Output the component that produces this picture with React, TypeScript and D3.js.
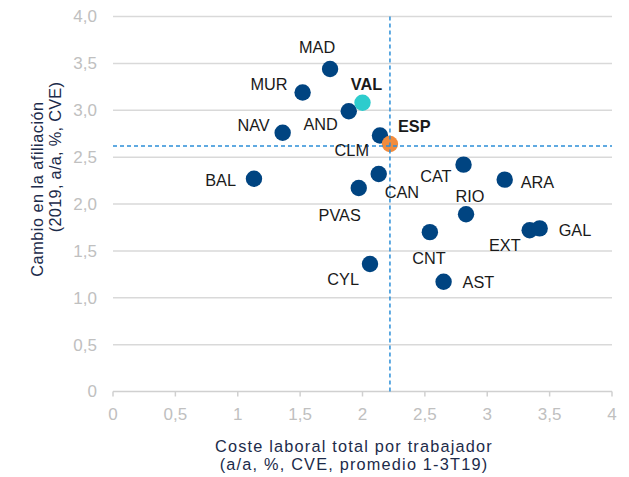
import React from "react";
import * as d3 from "d3";

// Regiones: coste laboral (x) y afiliación (y)
const regions = ["MAD", "MUR", "AND", "VAL", "NAV", "BAL", "CLM", "ESP", "CAT", "ARA", "CAN", "PVAS", "RIO", "CNT", "EXT", "GAL", "CYL", "AST"];
const costValues = [1.74, 1.52, 1.89, 2.0, 1.36, 1.13, 2.14, 2.22, 2.81, 3.14, 2.13, 1.97, 2.83, 2.54, 3.34, 3.42, 2.06, 2.65];
const affValues = [3.44, 3.19, 2.99, 3.08, 2.76, 2.27, 2.73, 2.64, 2.42, 2.26, 2.32, 2.17, 1.89, 1.7, 1.72, 1.74, 1.36, 1.17];
const xTicks = [0, 0.5, 1, 1.5, 2, 2.5, 3, 3.5, 4];
const yTicks = [0, 0.5, 1, 1.5, 2, 2.5, 3, 3.5, 4];
const espCost = 2.22;
const espAff = 2.62;

// colocación de etiquetas (anchor, dx, dy)
const labelPos: Record<string, [string, number, number]> = {
  MAD: ["middle", -13, -16],
  MUR: ["end", -15, -2],
  NAV: ["end", -13, -2],
  AND: ["end", -11, 19],
  VAL: ["middle", 4, -13],
  ESP: ["start", 8, -12],
  CLM: ["end", -11, 20],
  CAT: ["end", -12, 17],
  ARA: ["start", 16, 8],
  CAN: ["start", 6, 24],
  RIO: ["middle", 4, -12],
  PVAS: ["end", 2, 33],
  CNT: ["middle", -1, 32],
  EXT: ["end", -9, 21],
  GAL: ["start", 19, 8],
  CYL: ["end", -11, 21],
  AST: ["start", 19, 6],
  BAL: ["end", -18, 7],
};

const W = 629;
const H = 477;
const font = "'Liberation Sans', Arial, sans-serif";

export default function App() {
  const x = d3.scaleLinear().domain([0, 4]).range([113, 612]);
  const y = d3.scaleLinear().domain([0, 4]).range([391.5, 16.5]);
  const fmt = (v: number) => (v === 0 ? "0" : d3.format(".1f")(v).replace(".", ","));
  const fmtX = (v: number) => String(v).replace(".", ",");

  const data = regions.map((r, i) => ({ r, cx: costValues[i], cy: affValues[i] }));
  const color = (r: string) => (r === "ESP" ? "#f28b3c" : r === "VAL" ? "#2dcccd" : "#004481");

  return (
    <svg width={W} height={H} style={{ position: "absolute", left: 0, top: 0 }} fontFamily={font}>
      <rect width={W} height={H} fill="#fff" />
      {yTicks.map((t) => (
        <g key={t}>
          <line x1={x(0)} x2={x(4)} y1={y(t)} y2={y(t)} stroke={t === 0 ? "#d0d0d0" : "#d9d9d9"} strokeWidth={1.5} />
          <text x={97} y={y(t)} dy="0.35em" textAnchor="end" fontSize={17} fill="#c0c0c0">
            {fmt(t)}
          </text>
        </g>
      ))}
      {xTicks.map((t) => (
        <g key={t}>
          <line x1={x(t)} x2={x(t)} y1={y(0)} y2={y(0) + 5} stroke="#d0d0d0" strokeWidth={1.5} />
          <text x={x(t)} y={420} textAnchor="middle" fontSize={17} fill="#c0c0c0">
            {fmtX(t)}
          </text>
        </g>
      ))}
      {data.map((d) => (
        <circle key={d.r} cx={x(d.cx)} cy={y(d.cy)} r={8.2} fill={color(d.r)} />
      ))}
      <line x1={x(espCost)} x2={x(espCost)} y1={y(4)} y2={y(0)} stroke="#2d8fd8" strokeWidth={1.5} strokeDasharray="4,3" />
      <line x1={x(0)} x2={x(4)} y1={y(espAff)} y2={y(espAff)} stroke="#2d8fd8" strokeWidth={1.5} strokeDasharray="4,3" />
      {data.map((d) => {
        const [anchor, dx, dy] = labelPos[d.r];
        const bold = d.r === "ESP" || d.r === "VAL";
        return (
          <text
            key={d.r}
            x={x(d.cx) + dx}
            y={y(d.cy) + dy}
            textAnchor={anchor as any}
            fontSize={16.3}
            fontWeight={bold ? "bold" : "normal"}
            fill="#1a1a1a"
          >
            {d.r}
          </text>
        );
      })}
      <g fill="#1c2b4a" fontSize={16.3}>
        <text transform="translate(43,189) rotate(-90)" textAnchor="middle" letterSpacing={0.5}>
          Cambio en la afiliación
        </text>
        <text transform="translate(61,157) rotate(-90)" textAnchor="middle" letterSpacing={0.3}>
          (2019, a/a, %, CVE)
        </text>
        <text x={354} y={451.5} textAnchor="middle" letterSpacing={1.2}>
          Coste laboral total por trabajador
        </text>
        <text x={354} y={470} textAnchor="middle" letterSpacing={1.2}>
          (a/a, %, CVE, promedio 1-3T19)
        </text>
      </g>
    </svg>
  );
}
